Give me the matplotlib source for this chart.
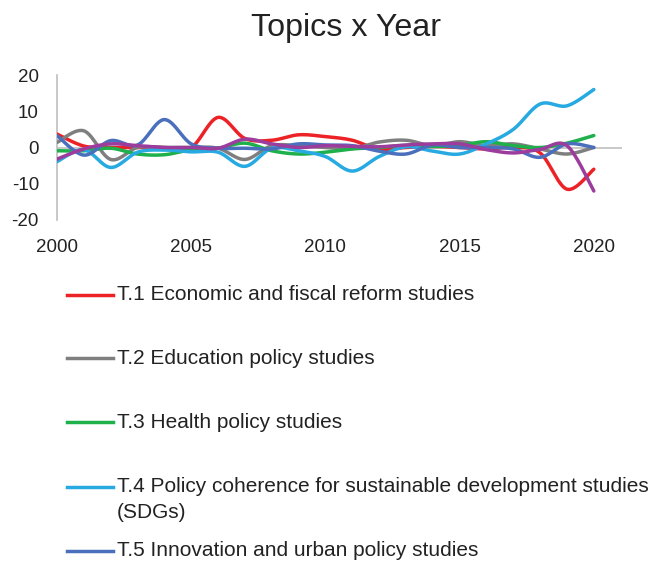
import numpy as np
import matplotlib
matplotlib.use("Agg")
import matplotlib.pyplot as plt
from matplotlib.lines import Line2D

plt.rcParams['font.family'] = ['Liberation Sans', 'DejaVu Sans']

years = list(range(2000, 2021))

t1_economic = [3.7, 0.4, 0.0, 0.0, 0.0, 0.0, 8.3, 2.5, 2.0, 3.5, 3.0, 2.0, -0.5, 0.0, 0.3, 0.0, -0.4, 0.0, -1.5, -11.5, -6.0]
t2_education = [1.4, 4.6, -3.3, 0.0, 0.0, 0.0, -0.2, -3.3, 0.5, 0.5, 0.0, -0.3, 1.5, 2.0, 0.5, 1.6, 0.5, 1.0, -0.4, -1.8, 0.0]
t3_health = [-0.9, -0.9, -0.2, -1.8, -2.0, -0.6, -0.2, 1.2, -0.9, -1.8, -1.3, -0.4, 0.0, 0.6, 0.3, 0.6, 1.6, 0.5, 0.0, 1.2, 3.3]
t4_sdgs = [-3.9, -0.6, -5.5, -1.3, -0.7, -1.2, -1.3, -5.2, -0.2, -0.9, -2.5, -6.5, -2.5, 0.2, -1.0, -1.8, 1.0, 5.0, 12.0, 11.5, 16.0]
t5_innovation = [3.3, -2.1, 1.9, 0.7, 7.7, 1.0, -0.2, -0.2, -0.4, 1.0, 0.7, 0.5, -1.0, -1.8, 0.7, 0.0, 0.0, -0.4, -2.7, 1.0, 0.0]
t6_other = [-3.2, -0.4, 1.0, 0.5, 0.0, 0.0, -0.2, 2.3, 1.0, 0.0, 0.5, 0.3, 0.2, 0.7, 1.0, 1.0, -0.6, -1.5, -0.5, 0.5, -12.0]

series = [t1_economic, t2_education, t3_health, t4_sdgs, t5_innovation, t6_other]
labels = [
    "T.1 Economic and fiscal reform studies",
    "T.2 Education policy studies",
    "T.3 Health policy studies",
    "T.4 Policy coherence for sustainable development studies\n(SDGs)",
    "T.5 Innovation and urban policy studies",
    None,
]
colors = ["#ec2227", "#7f7f7f", "#1db04b", "#27aae1", "#4a6fbd", "#9c3c9c"]

x_ticks = [2000, 2005, 2010, 2015, 2020]
y_ticks = [-20, -10, 0, 10, 20]


def smooth(xs, ys, n=30):
    """Cubic Bezier smoothing through every point (Catmull-Rom style)."""
    xs = np.asarray(xs, float)
    ys = np.asarray(ys, float)
    px = np.concatenate([[xs[0]], xs, [xs[-1]]])
    py = np.concatenate([[ys[0]], ys, [ys[-1]]])
    out_x, out_y = [], []
    t = np.linspace(0, 1, n, endpoint=False)
    for i in range(1, len(px) - 2):
        p0 = np.array([px[i - 1], py[i - 1]])
        p1 = np.array([px[i], py[i]])
        p2 = np.array([px[i + 1], py[i + 1]])
        p3 = np.array([px[i + 2], py[i + 2]])
        c1 = p1 + (p2 - p0) / 6.0
        c2 = p2 - (p3 - p1) / 6.0
        b = ((1 - t) ** 3)[:, None] * p1 + (3 * (1 - t) ** 2 * t)[:, None] * c1 \
            + (3 * (1 - t) * t ** 2)[:, None] * c2 + (t ** 3)[:, None] * p2
        out_x.extend(b[:, 0])
        out_y.extend(b[:, 1])
    out_x.append(xs[-1])
    out_y.append(ys[-1])
    return np.array(out_x), np.array(out_y)


fig = plt.figure(figsize=(6.52, 5.63), dpi=100)
ax = fig.add_axes([57 / 652, 1 - 220 / 563, (622 - 57) / 652, (220 - 75) / 563])

ax.axhline(0, color="#bfbfbf", lw=1.2, zorder=1)
for ys, c in zip(series, colors):
    sx, sy = smooth(years, ys)
    ax.plot(sx, sy, color=c, lw=2.5, solid_capstyle="round", zorder=3)

ax.set_xlim(2000, 2021.05)
ax.set_ylim(-20, 20)
ax.set_xticks(x_ticks)
ax.set_xticklabels([str(v) for v in x_ticks])
ax.set_yticks(y_ticks)
ax.set_yticklabels([str(v) for v in y_ticks])
ax.tick_params(axis="both", length=0, labelsize=13.5, colors="#222222")
ax.tick_params(axis="x", pad=14)
ax.tick_params(axis="y", pad=13)
for s in ["top", "right", "bottom"]:
    ax.spines[s].set_visible(False)
ax.spines["left"].set_color("#bfbfbf")
ax.spines["left"].set_linewidth(1.2)
ax.patch.set_alpha(0)

fig.text(346 / 652, 1 - 28 / 563, "Topics x Year", ha="center", va="center", fontsize=23.2, color="#222222")

# legend entries drawn below the plot
legend_rows = [295, 358, 422, 487, 551]
for row, lab, c in zip(legend_rows, labels, colors):
    if lab is None:
        continue
    yf = 1 - row / 563
    fig.add_artist(Line2D([67 / 652, 113 / 652], [yf, yf], color=c, lw=2.5, transform=fig.transFigure))
    fig.text(117 / 652, yf, lab.split("\n")[0], ha="left", va="center", fontsize=15, color="#222222")
    if "\n" in lab:
        fig.text(117 / 652, yf - 26 / 563, lab.split("\n")[1], ha="left", va="center", fontsize=15, color="#222222")

fig.savefig("out.png", dpi=100)
